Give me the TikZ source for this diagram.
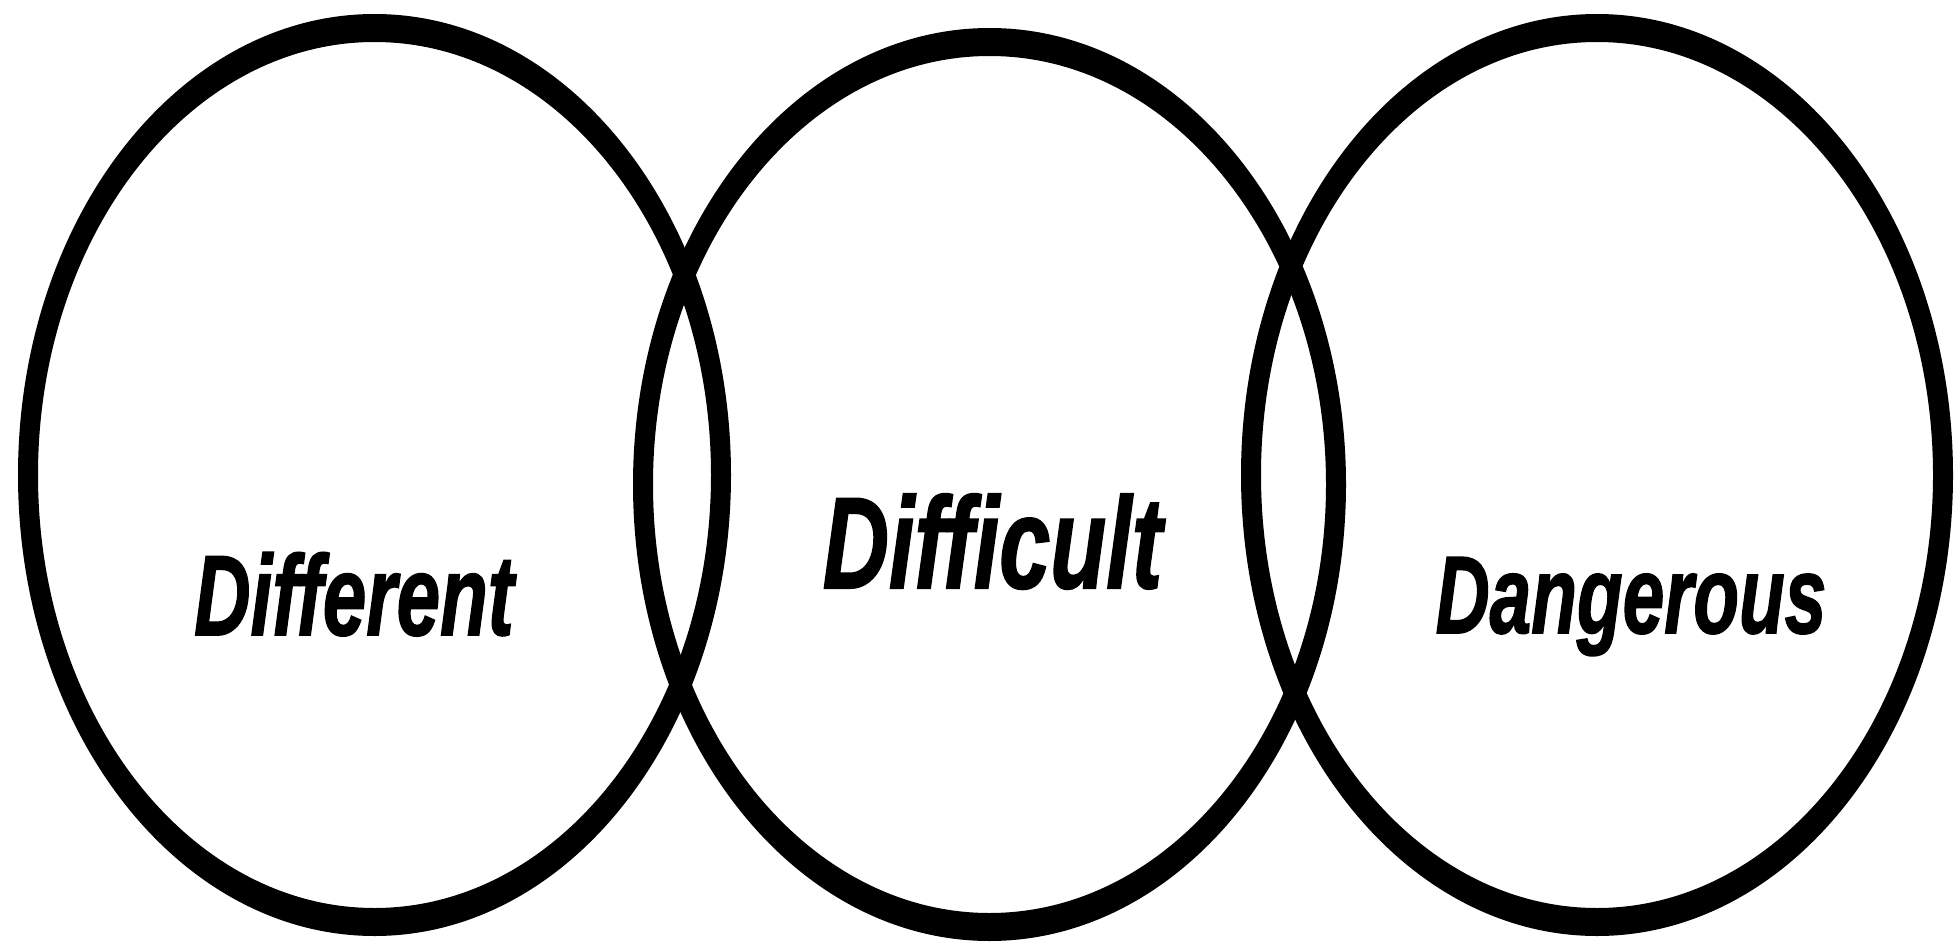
\documentclass[tikz,border=0pt]{standalone}
\usepackage{fontspec}
\usepackage{graphicx}
\newfontfamily\labfont[Ligatures=CommonOff, FakeBold=1.6]{Liberation Sans Bold Italic}
\newcommand{\lbl}[3]{\scalebox{#1}[1]{\fontsize{#2}{#2}\selectfont #3}}
\begin{document}
\begin{tikzpicture}[x=1pt,y=-1pt,
  ring/.style={fill=black, even odd rule},
  lab/.style={anchor=base, inner sep=0pt, font=\labfont}]
\useasboundingbox (0,0) rectangle (1957,947);
\fill[white] (0,0) rectangle (1957,947);
% rings (stroke ~20 horizontally, ~28 vertically)
\fill[ring] (374.5,475) ellipse [x radius=356.5, y radius=461]
            (374.5,475) ellipse [x radius=336.5, y radius=433];
\fill[ring] (989.5,484.5) ellipse [x radius=356.5, y radius=456.5]
            (989.5,484.5) ellipse [x radius=336.5, y radius=428.5];
\fill[ring] (1597,475) ellipse [x radius=356, y radius=461]
            (1597,475) ellipse [x radius=336, y radius=433];
% labels
\node[lab] (different) at (354,635) {\lbl{0.685}{114}{Different}};
\node[lab] (difficult) at (992.5,588) {\lbl{0.705}{130}{Difficult}};
\node[lab] (dangerous) at (1631,633) {\lbl{0.68}{110}{Dangerous}};
\end{tikzpicture}
\end{document}
